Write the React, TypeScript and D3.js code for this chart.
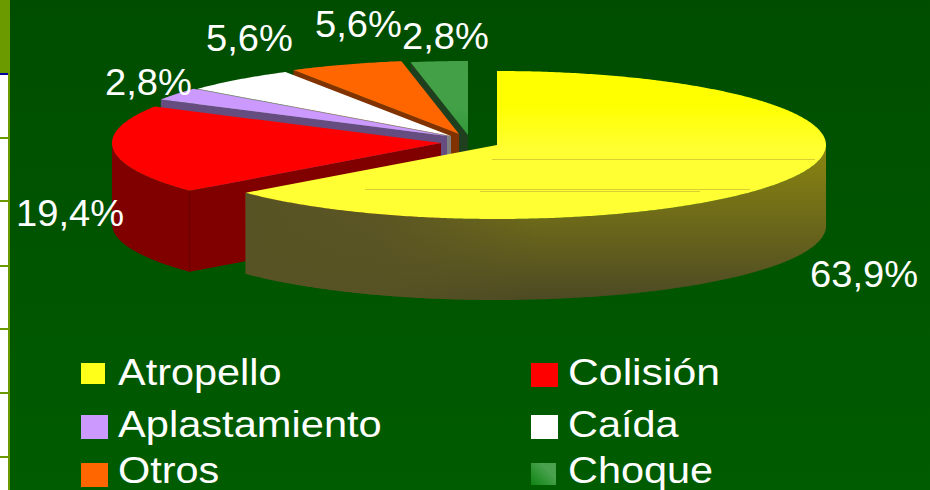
import React, {useEffect, useRef} from 'react';
import * as d3 from 'd3';

const categories = ['Atropello', 'Colisión', 'Aplastamiento', 'Caída', 'Otros', 'Choque'];
const shares = [63.9, 19.4, 2.8, 5.6, 5.6, 2.8];
const shareLabels = ['63,9%', '19,4%', '2,8%', '5,6%', '5,6%', '2,8%'];

const topColours = ['url(#yellowTop)', '#ff0000', '#cc99ff', '#ffffff', '#ff6600', 'url(#greenTop)'];
const wallColours = ['url(#yellowWall)', '#800000', '#664d80', '#808080', '#803300', '#1f3f1f'];
const legendColours = ['#ffff1a', '#ff0000', '#cc99ff', '#ffffff', '#ff6600', 'url(#greenSwatch)'];

// where each exploded slice has its apex
const apexes = [[497, 145], [441, 143], [447, 136], [451, 136], [459, 134], [468, 135]];
const labelSpots = [[810, 287], [16, 226], [105, 95], [206, 51], [315, 37], [402, 49]];
const legendSpots = [[81, 363, 24, 21], [531, 363, 27, 24], [81, 415, 27, 24], [531, 415, 27, 24], [81, 463, 27, 24], [531, 463, 25, 22]];
const legendBaselines = [385, 385, 437, 437, 483, 483];
const legendStretch = [1.12, 1.155, 1.125, 1.12, 1.12, 1.12];
const frameRules = [137, 200, 265, 328, 392, 456];

const RX = 329;
const RY = 74;
const DEPTH = 81;

const App = () => {
    const ref = useRef<SVGSVGElement>(null);

    useEffect(() => {
        const svg = d3.select(ref.current);
        svg.selectAll('*').remove();

        const defs = svg.append('defs');
        const gradient = (id, attrs, stops) => {
            const g = defs.append('linearGradient').attr('id', id).attr('gradientUnits', 'userSpaceOnUse');
            Object.entries(attrs).forEach(([k, v]) => g.attr(k, v as any));
            stops.forEach(([o, c, a = 1]) => g.append('stop').attr('offset', o).attr('stop-color', c).attr('stop-opacity', a));
        };
        gradient('bg', {x1: 0, y1: 0, x2: 0, y2: 490}, [[0, '#004d00'], [1, '#005c00']]);
        gradient('yellowTop', {x1: 640, y1: 105, x2: 640, y2: 150}, [[0, '#ffff00'], [1, '#ffff33']]);
        gradient('yellowWall', {x1: 640, y1: 150, x2: 640, y2: 298}, [[0, '#8a8510'], [1, '#4d4a24']]);
        gradient('yellowShade', {x1: 245, y1: 0, x2: 540, y2: 0}, [[0, '#585324'], [0.45, '#585324', 0.9], [1, '#585324', 0]]);
        gradient('greenTop', {x1: 445, y1: 128, x2: 450, y2: 105}, [[0, '#339a3a'], [1, '#43a047']]);
        gradient('greenSwatch', {x1: 531, y1: 487, x2: 548, y2: 470}, [[0, '#0a820f'], [1, '#4aa24e']]);

        svg.append('rect').attr('width', 930).attr('height', 490).attr('fill', 'url(#bg)');

        // slide frame down the left edge
        svg.append('rect').attr('x', 0).attr('y', 73).attr('width', 8).attr('height', 417).attr('fill', '#ffffff');
        svg.append('rect').attr('x', 8).attr('y', 73).attr('width', 2).attr('height', 417).attr('fill', '#6b9a00');
        svg.append('rect').attr('width', 10).attr('height', 73).attr('fill', '#6b9a00');
        svg.append('rect').attr('y', 73).attr('width', 8).attr('height', 2).attr('fill', '#0000a0');
        svg.selectAll('.rule').data(frameRules).enter().append('rect').attr('class', 'rule')
            .attr('x', 0).attr('y', (d) => d).attr('width', 9).attr('height', 2).attr('fill', '#6b9a00');

        const slices = d3.pie<number>().sort(null).value((d) => d)(shares);
        const line = d3.line();

        const chart = svg.append('g');
        const order = d3.range(slices.length).reverse();

        order.forEach((i) => {
            const s = slices[i];
            const [cx, cy] = apexes[i];
            const ex = (a) => cx + RX * Math.sin(a);
            const ey = (a) => cy - RY * Math.cos(a);

            // cut face on the leading edge
            if (i > 0) {
                chart.append('path')
                    .attr('d', line([[cx, cy], [ex(s.startAngle), ey(s.startAngle)], [ex(s.startAngle), ey(s.startAngle) + DEPTH], [cx, cy + DEPTH]]) + 'Z')
                    .attr('fill', wallColours[i]);
            }

            // rim, only the part facing the viewer
            const from = Math.max(s.startAngle, Math.PI / 2);
            const to = Math.min(s.endAngle, Math.PI * 1.5);
            if (from < to) {
                const rim = d3.area<number>().x(ex).y0(ey).y1((a) => ey(a) + DEPTH);
                const d = rim(d3.range(from, to, 0.01).concat([to]));
                chart.append('path').attr('d', d).attr('fill', wallColours[i]);
                if (i === 0) chart.append('path').attr('d', d).attr('fill', 'url(#yellowShade)');
            }

            // top face, projected so the gradients stay in page coordinates
            const edge = d3.range(s.startAngle, s.endAngle, 0.01).concat([s.endAngle]).map((a) => [ex(a), ey(a)] as [number, number]);
            chart.append('path')
                .attr('d', line([[cx, cy], ...edge]) + 'Z')
                .attr('fill', topColours[i]);
        });

        // seam on the red rim and the faint banding left in the yellow top
        const redEnd = slices[0].endAngle;
        chart.append('line')
            .attr('x1', apexes[1][0] + RX * Math.sin(redEnd)).attr('x2', apexes[1][0] + RX * Math.sin(redEnd))
            .attr('y1', apexes[1][1] - RY * Math.cos(redEnd)).attr('y2', apexes[1][1] - RY * Math.cos(redEnd) + DEPTH)
            .attr('stroke', '#6a0000');
        [[492, 815, 159.5], [365, 750, 189.5], [480, 700, 191.5]].forEach(([x1, x2, y]) => {
            chart.append('line').attr('x1', x1).attr('x2', x2).attr('y1', y).attr('y2', y)
                .attr('stroke', '#d8d030').attr('stroke-width', 1);
        });

        const text = (label, x, y, stretch) => svg.append('text')
            .attr('transform', `translate(${x},${y}) scale(${stretch},1)`)
            .attr('font-family', '"Liberation Sans", Arial, sans-serif')
            .attr('font-size', 37)
            .attr('fill', '#ffffff')
            .text(label);

        shareLabels.forEach((label, i) => text(label, labelSpots[i][0], labelSpots[i][1], 1.03));

        categories.forEach((name, i) => {
            const [x, y, w, h] = legendSpots[i];
            svg.append('rect').attr('x', x).attr('y', y).attr('width', w).attr('height', h).attr('fill', legendColours[i]);
            text(name, i % 2 ? 568 : 118, legendBaselines[i], legendStretch[i]);
        });
    }, []);

    return (
        <svg ref={ref} width={930} height={490} style={{position: 'fixed', left: 0, top: 0, display: 'block'}} />
    );
};

export default App;
